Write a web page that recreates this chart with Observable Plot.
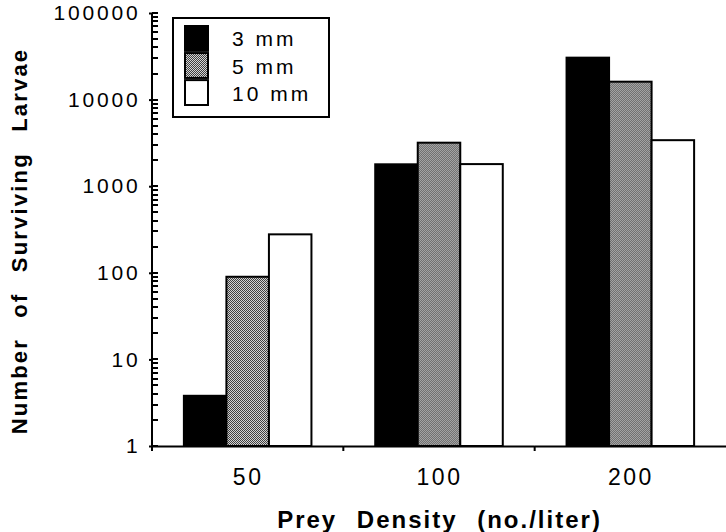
<!DOCTYPE html>
<html>
<head>
<meta charset="utf-8">
<script src="https://cdn.jsdelivr.net/npm/d3@7"></script>
<script src="https://cdn.jsdelivr.net/npm/@observablehq/plot@0.6"></script>
<style>
html, body { margin: 0; padding: 0; background: #fff; }
#wrap { position: relative; width: 726px; height: 532px; overflow: hidden; }
#wrap svg text { font-family: "Liberation Sans", Arial, Helvetica, sans-serif; fill: #000; }
[aria-label="y-axis tick label"] text { font-size: 21px; letter-spacing: 2.8px; }
[aria-label="fx-axis tick label"] text { font-size: 23px; letter-spacing: 2.5px; }
[aria-label="y-axis label"] text, text[aria-label="y-axis label"] { font-size: 22px; font-weight: bold; letter-spacing: 2.2px; word-spacing: 12px; }
[aria-label="fx-axis label"] text, text[aria-label="fx-axis label"] { font-size: 24px; font-weight: bold; letter-spacing: 2px; word-spacing: 11px; }
#legend { position: absolute; left: 172px; top: 17px; }
#legend text { font-size: 21px; letter-spacing: 3px; }
</style>
</head>
<body>
<div id="wrap"></div>
<script>
(function () {
const densities = ["50", "100", "200"];
const sizes = ["3 mm", "5 mm", "10 mm"];
const larvae3mm = [3.8, 1790, 30500];
const larvae5mm = [90, 3180, 16100];
const larvae10mm = [278, 1800, 3400];
const yTicks = [1, 10, 100, 1000, 10000, 100000];
const yLabel = "Number of Surviving Larvae";
const xLabel = "Prey Density (no./liter)";
const fills = ["#000", "url(#stipple)", "#fff"];

const series = [larvae3mm, larvae5mm, larvae10mm];
const rows = densities.flatMap((d, i) => sizes.map((s, j) => ({density: d, size: s, count: series[j][i]})));

const chart = Plot.plot({
  width: 726,
  height: 532,
  marginLeft: 152,
  marginRight: 0,
  marginTop: 13,
  marginBottom: 86,
  style: {fontFamily: "'Liberation Sans', Arial, sans-serif", background: "#fff", color: "#000"},
  fx: {domain: densities, padding: 0, round: false},
  x: {domain: sizes, paddingInner: 0, paddingOuter: 0.75, round: false, axis: null},
  y: {type: "log", domain: d3.extent(yTicks)},
  color: {domain: sizes, range: fills},
  marks: [
    Plot.barY(rows, {fx: "density", x: "size", y1: yTicks[0], y2: "count", fill: "size", stroke: "#000", strokeWidth: 2}),
    Plot.ruleY([yTicks[0]], {stroke: "#000", strokeWidth: 2}),
    Plot.axisY(yTicks, {tickSize: 3, tickPadding: 9, tickFormat: d => String(d), fontSize: 21, strokeWidth: 2,
      label: yLabel, labelAnchor: "center", labelOffset: 141, labelArrow: "none"}),
    Plot.axisFx({anchor: "bottom", tickSize: 0, tickPadding: 22, fontSize: 23,
      label: xLabel, labelAnchor: "center", labelOffset: 81, labelArrow: "none"})
  ]
});

const svg = d3.select(chart);
const defs = svg.insert("defs", ":first-child");
const pat = defs.append("pattern").attr("id", "stipple").attr("patternUnits", "userSpaceOnUse")
  .attr("width", 2).attr("height", 2);
pat.append("rect").attr("width", 2).attr("height", 2).attr("fill", "#d4d4d4");
pat.append("rect").attr("width", 1).attr("height", 1).attr("fill", "#404040");
pat.append("rect").attr("x", 1).attr("y", 1).attr("width", 1).attr("height", 1).attr("fill", "#404040");

svg.selectAll('[aria-label="y-axis label"] text, text[aria-label="y-axis label"]').attr("dx", -11);

// axis line, inward minor ticks and between-group ticks, all from the plot's own scales
const fxS = chart.scale("fx"), yS = chart.scale("y");
const [x0, x1] = d3.extent(fxS.range);
const [y0, y1] = d3.extent(yS.range);
const yPos = d3.scaleLog(yS.domain, yS.range);
const minorTicks = yPos.ticks();
const band = d3.scaleBand(fxS.domain, [x0, x1]).paddingInner(0).paddingOuter(0);
const g = svg.append("g").attr("stroke", "#000").attr("fill", "none");
g.append("line").attr("x1", x0).attr("x2", x0).attr("y1", y0).attr("y2", y1 + 4).attr("stroke-width", 2);
g.append("path").attr("stroke-width", 2)
  .attr("d", minorTicks.map(t => `M${x0},${Math.round(yPos(t))}h6`).join(""));
g.append("path").attr("stroke-width", 2)
  .attr("d", fxS.domain.map(d => `M${band(d)},${y1}v5`).join(""));

const wrap = document.getElementById("wrap");
wrap.appendChild(chart);

const colorS = chart.scale("color");
const lw = 158, lh = 101;
const leg = d3.select(wrap).append("svg").attr("id", "legend").attr("width", lw).attr("height", lh);
leg.append("rect").attr("x", 1).attr("y", 1).attr("width", lw - 2).attr("height", lh - 2)
  .attr("fill", "#fff").attr("stroke", "#000").attr("stroke-width", 2);
const ly = d3.scaleBand(sizes, [9, 88]).paddingInner(0.08);
sizes.forEach((s, i) => {
  leg.append("rect").attr("x", 13).attr("y", ly(s)).attr("width", 23).attr("height", ly.bandwidth())
    .attr("fill", colorS.range[i]).attr("stroke", "#000").attr("stroke-width", 2);
  leg.append("text").attr("x", 60).attr("y", ly(s) + ly.bandwidth() / 2 + 8).text(s);
});
})();
</script>
</body>
</html>
